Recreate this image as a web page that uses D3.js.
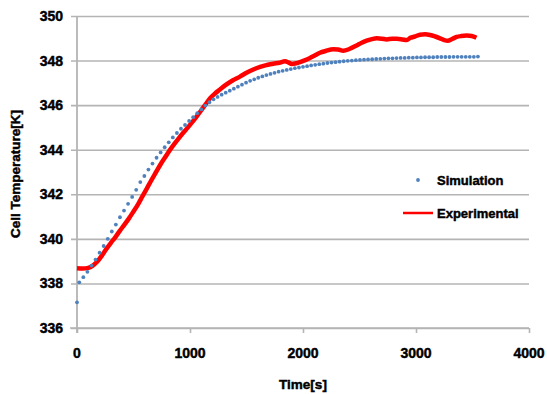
<!DOCTYPE html>
<html>
<head>
<meta charset="utf-8">
<script src="https://cdn.jsdelivr.net/npm/d3@7"></script>
<style>
  body { margin: 0; background: #fff; }
  text { font-family: "Liberation Sans", Arial, sans-serif; font-weight: bold; fill: #000; stroke: #000; stroke-width: 0.45px; }
</style>
</head>
<body>
<svg id="chart"></svg>
<script>
// simulation (dots)
let simTime = [0, 20, 56, 92, 128, 164, 200, 236, 272, 308, 344, 380, 416, 452, 488, 524, 560, 596, 632, 668,
  704, 740, 776, 812, 848, 884, 920, 956, 992, 1028, 1064, 1100, 1136, 1172, 1208, 1244, 1280, 1316, 1352, 1388,
  1424, 1460, 1496, 1532, 1568, 1604, 1640, 1676, 1712, 1748, 1784, 1820, 1856, 1892, 1928, 1964, 2000, 2036, 2072, 2108,
  2144, 2180, 2216, 2252, 2288, 2324, 2360, 2396, 2432, 2468, 2504, 2540, 2576, 2612, 2648, 2684, 2720, 2756, 2792, 2828,
  2864, 2900, 2936, 2972, 3008, 3044, 3080, 3116, 3152, 3188, 3224, 3260, 3296, 3332, 3368, 3404, 3440, 3476, 3512, 3548];
let simTemp = [337.15, 338.05, 338.28, 338.52, 338.80, 339.07, 339.38, 339.68, 340.00, 340.33, 340.64, 340.97, 341.27, 341.57, 341.88, 342.20, 342.55, 342.82, 343.11, 343.38,
  343.64, 343.88, 344.11, 344.33, 344.55, 344.75, 344.94, 345.11, 345.29, 345.46, 345.64, 345.81, 345.98, 346.13, 346.26, 346.37, 346.47, 346.56, 346.65, 346.74,
  346.83, 346.92, 347.01, 347.09, 347.16, 347.23, 347.29, 347.35, 347.40, 347.45, 347.50, 347.54, 347.58, 347.62, 347.66, 347.69, 347.72, 347.75, 347.78, 347.81,
  347.84, 347.86, 347.89, 347.91, 347.93, 347.95, 347.97, 347.99, 348.00, 348.02, 348.03, 348.04, 348.05, 348.06, 348.07, 348.08, 348.09, 348.10, 348.10, 348.11,
  348.12, 348.12, 348.13, 348.13, 348.14, 348.14, 348.15, 348.15, 348.15, 348.16, 348.16, 348.16, 348.16, 348.17, 348.17, 348.17, 348.17, 348.17, 348.17, 348.18];

// experimental (red line)
let expTime = [0, 50, 100, 140, 180, 220, 260, 300, 340, 380, 420, 460, 500, 540, 580, 620, 660, 700, 740, 780,
  820, 860, 900, 940, 980, 1020, 1060, 1100, 1140, 1180, 1220, 1265, 1320, 1380, 1442, 1500, 1560, 1620, 1680, 1737,
  1790, 1841, 1870, 1900, 1940, 1973, 2020, 2062, 2100, 2150, 2200, 2268, 2310, 2357, 2410, 2475, 2520, 2563, 2610, 2652,
  2700, 2741, 2790, 2829, 2880, 2918, 2950, 2990, 3035, 3080, 3124, 3170, 3212, 3250, 3280, 3320, 3360, 3400, 3449, 3493, 3535];
let expTemp = [338.68, 338.67, 338.70, 338.80, 338.98, 339.25, 339.55, 339.82, 340.08, 340.37, 340.64, 340.92, 341.23, 341.55, 341.92, 342.28, 342.65, 343.00, 343.35, 343.66,
  343.97, 344.25, 344.51, 344.76, 344.99, 345.24, 345.50, 345.77, 346.05, 346.32, 346.52, 346.70, 346.92, 347.12, 347.28, 347.45, 347.60, 347.72, 347.80, 347.86,
  347.90, 347.97, 347.92, 347.85, 347.88, 347.93, 348.02, 348.12, 348.22, 348.35, 348.43, 348.51, 348.50, 348.44, 348.52, 348.68, 348.80, 348.89, 348.96, 349.00,
  348.98, 348.95, 348.98, 348.98, 348.95, 348.92, 349.02, 349.08, 349.16, 349.18, 349.15, 349.08, 349.00, 348.92, 348.89, 348.97, 349.06, 349.10, 349.12, 349.10, 349.02];

let xTicks = [0, 1000, 2000, 3000, 4000];
let yTicks = [336, 338, 340, 342, 344, 346, 348, 350];
let seriesNames = ["Simulation", "Experimental"];

let width = 547, height = 394;
let svg = d3.select("#chart").attr("width", width).attr("height", height);

let x = d3.scaleLinear().domain([0, 4000]).range([77, 529]);
let y = d3.scaleLinear().domain([336, 350]).range([328, 16]);

let gridColor = "#b4b4b4";

// horizontal gridlines + y ticks
svg.append("g")
  .attr("transform", "translate(77,0)")
  .call(d3.axisLeft(y).tickValues(yTicks).tickSize(-(529 - 77)).tickFormat(""))
  .call(g => g.select(".domain").remove())
  .call(g => g.selectAll("line").attr("stroke", gridColor).attr("stroke-width", 1.6).attr("x1", -6));

// x axis line with tick marks
svg.append("g")
  .attr("transform", "translate(0,328)")
  .call(d3.axisBottom(x).tickValues(xTicks).tickSize(5).tickFormat(""))
  .call(g => g.select(".domain").attr("stroke", gridColor).attr("stroke-width", 1.6).attr("d", "M70,0H529"))
  .call(g => g.selectAll("line").attr("stroke", gridColor).attr("stroke-width", 1.6));

// y axis line
svg.append("line")
  .attr("x1", x(0)).attr("x2", x(0))
  .attr("y1", y(350)).attr("y2", 333)
  .attr("stroke", gridColor).attr("stroke-width", 1.8);

// tick labels
svg.append("g").selectAll("text").data(yTicks).enter().append("text")
  .attr("x", 63).attr("y", d => y(d) + 5)
  .attr("text-anchor", "end")
  .style("font-size", "14px")
  .text(d => d);

svg.append("g").selectAll("text").data(xTicks).enter().append("text")
  .attr("x", d => x(d)).attr("y", 358)
  .attr("text-anchor", "middle")
  .style("font-size", "14px")
  .text(d => d);

// axis titles
svg.append("text")
  .attr("x", 303).attr("y", 389)
  .attr("text-anchor", "middle")
  .style("font-size", "13.5px")
  .text("Time[s]");

svg.append("text")
  .attr("transform", "translate(20,174) rotate(-90)")
  .attr("text-anchor", "middle")
  .style("font-size", "13.5px")
  .text("Cell Temperature[K]");

// experimental line
let expData = expTime.map((t, i) => ({ t: t, v: expTemp[i] }));
let line = d3.line().x(d => x(d.t)).y(d => y(d.v)).curve(d3.curveMonotoneX);
svg.append("path")
  .datum(expData)
  .attr("fill", "none")
  .attr("stroke", "#ff0000")
  .attr("stroke-width", 4.5)
  .attr("stroke-linejoin", "round")
  .attr("d", line);

// simulation dots
let simData = simTime.map((t, i) => ({ t: t, v: simTemp[i] }));
svg.append("g").selectAll("circle").data(simData).enter().append("circle")
  .attr("cx", d => x(d.t))
  .attr("cy", d => y(d.v))
  .attr("r", 1.9)
  .attr("fill", "#4f81bd");

// legend
let legend = svg.append("g");
legend.append("circle").attr("cx", 418).attr("cy", 180).attr("r", 1.9).attr("fill", "#4f81bd");
legend.append("line").attr("x1", 403).attr("x2", 433).attr("y1", 213).attr("y2", 213)
  .attr("stroke", "#ff0000").attr("stroke-width", 2.5);
legend.selectAll("text.lg").data(seriesNames).enter().append("text")
  .attr("class", "lg")
  .attr("x", 437).attr("y", (d, i) => i === 0 ? 185 : 218)
  .style("font-size", "13px")
  .text(d => d);
</script>
</body>
</html>
